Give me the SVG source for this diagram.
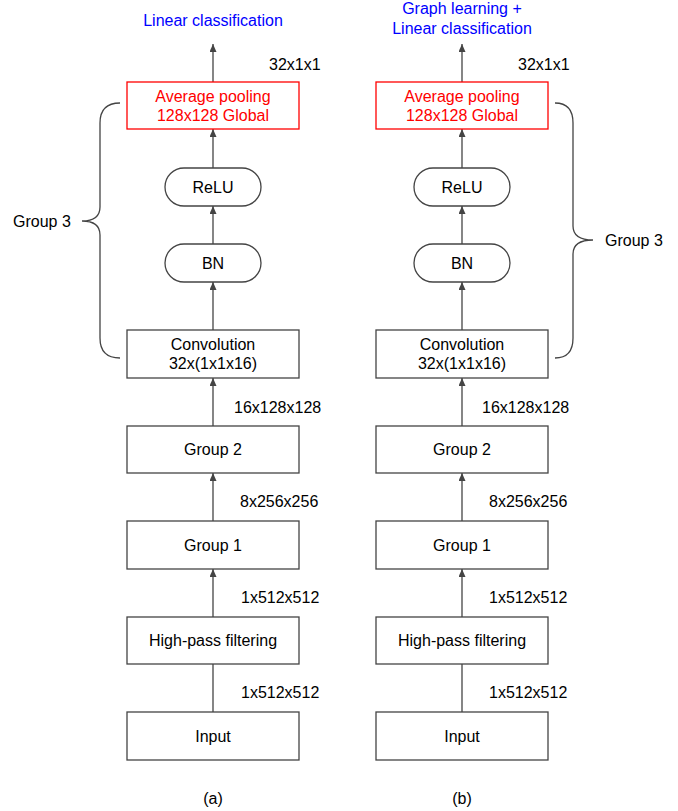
<svg xmlns="http://www.w3.org/2000/svg" width="678" height="811" viewBox="0 0 678 811">
<defs>
<style>
.box{fill:#fff;stroke:#444;stroke-width:1.3}
.red{fill:#fff;stroke:#f00;stroke-width:1.3}
.t{font-family:"Liberation Sans",Arial,sans-serif;font-size:16px;fill:#000}
.c{text-anchor:middle}
.rt{fill:#f00}
.bt{fill:#00f}
.ln{stroke:#444;stroke-width:1.3;fill:none}
</style>
<marker id="ah" markerUnits="userSpaceOnUse" markerWidth="9" markerHeight="8" refX="8" refY="3.5" orient="auto">
<path d="M0,0 L8,3.5 L0,7 z" fill="#444"/>
</marker>
</defs>
<rect width="678" height="811" fill="#fff"/>
<g id="connectors">
<line class="ln" x1="213" y1="712" x2="213" y2="617" marker-end="url(#ah)"/>
<line class="ln" x1="213" y1="617" x2="213" y2="569" marker-end="url(#ah)"/>
<line class="ln" x1="213" y1="521" x2="213" y2="473" marker-end="url(#ah)"/>
<line class="ln" x1="213" y1="426" x2="213" y2="378" marker-end="url(#ah)"/>
<line class="ln" x1="213" y1="330" x2="213" y2="282" marker-end="url(#ah)"/>
<line class="ln" x1="213" y1="244" x2="213" y2="206" marker-end="url(#ah)"/>
<line class="ln" x1="213" y1="168" x2="213" y2="129" marker-end="url(#ah)"/>
<line class="ln" x1="213" y1="82" x2="213" y2="44" marker-end="url(#ah)"/>
<line class="ln" x1="462" y1="712" x2="462" y2="617" marker-end="url(#ah)"/>
<line class="ln" x1="462" y1="617" x2="462" y2="569" marker-end="url(#ah)"/>
<line class="ln" x1="462" y1="521" x2="462" y2="473" marker-end="url(#ah)"/>
<line class="ln" x1="462" y1="426" x2="462" y2="378" marker-end="url(#ah)"/>
<line class="ln" x1="462" y1="330" x2="462" y2="282" marker-end="url(#ah)"/>
<line class="ln" x1="462" y1="244" x2="462" y2="206" marker-end="url(#ah)"/>
<line class="ln" x1="462" y1="168" x2="462" y2="129" marker-end="url(#ah)"/>
<line class="ln" x1="462" y1="82" x2="462" y2="44" marker-end="url(#ah)"/>
</g>
<g id="edge-labels">
<text class="t" x="269" y="69.5">32x1x1</text>
<text class="t" x="234" y="412.5">16x128x128</text>
<text class="t" x="240" y="507">8x256x256</text>
<text class="t" x="241" y="603">1x512x512</text>
<text class="t" x="241" y="698">1x512x512</text>
<text class="t" x="518" y="69.5">32x1x1</text>
<text class="t" x="482" y="412.5">16x128x128</text>
<text class="t" x="489" y="507">8x256x256</text>
<text class="t" x="489" y="603">1x512x512</text>
<text class="t" x="489" y="698">1x512x512</text>
</g>
<g id="a-output"><text class="t c bt" x="213" y="26">Linear classification</text></g>
<g id="a-avgpool"><rect class="red" x="127" y="82" width="172" height="47"/><text class="t c rt" x="213" y="102">Average pooling</text><text class="t c rt" x="213" y="120.5">128x128 Global</text></g>
<g id="a-relu"><rect class="box" x="165" y="168" width="96" height="38" rx="19"/><text class="t c" x="213" y="192.5">ReLU</text></g>
<g id="a-bn"><rect class="box" x="165" y="244" width="96" height="38" rx="19"/><text class="t c" x="213" y="268.5">BN</text></g>
<g id="a-conv"><rect class="box" x="127" y="330" width="172" height="48"/><text class="t c" x="213" y="349.5">Convolution</text><text class="t c" x="213" y="369">32x(1x1x16)</text></g>
<g id="a-group2"><rect class="box" x="127" y="426" width="172" height="47"/><text class="t c" x="213" y="455">Group 2</text></g>
<g id="a-group1"><rect class="box" x="127" y="521" width="172" height="48"/><text class="t c" x="213" y="550.5">Group 1</text></g>
<g id="a-hpf"><rect class="box" x="127" y="617" width="172" height="47"/><text class="t c" x="213" y="646">High-pass filtering</text></g>
<g id="a-input"><rect class="box" x="127" y="712" width="172" height="48"/><text class="t c" x="213" y="741.5">Input</text></g>
<g id="a-group3"><path class="ln" d="M120,103 C107,103 100,110 100,123 L100,207 C100,216 95,221 82,221 C95,221 100,226 100,235 L100,338 C100,351 107,358 120,358"/><text class="t" x="13" y="226.5">Group 3</text></g>
<g id="a-caption"><text class="t c" x="213" y="803.5">(a)</text></g>
<g id="b-output"><text class="t c bt" x="462" y="14">Graph learning +</text><text class="t c bt" x="462" y="34">Linear classification</text></g>
<g id="b-avgpool"><rect class="red" x="376" y="82" width="172" height="47"/><text class="t c rt" x="462" y="102">Average pooling</text><text class="t c rt" x="462" y="120.5">128x128 Global</text></g>
<g id="b-relu"><rect class="box" x="414" y="168" width="96" height="38" rx="19"/><text class="t c" x="462" y="192.5">ReLU</text></g>
<g id="b-bn"><rect class="box" x="414" y="244" width="96" height="38" rx="19"/><text class="t c" x="462" y="268.5">BN</text></g>
<g id="b-conv"><rect class="box" x="376" y="330" width="172" height="48"/><text class="t c" x="462" y="349.5">Convolution</text><text class="t c" x="462" y="369">32x(1x1x16)</text></g>
<g id="b-group2"><rect class="box" x="376" y="426" width="172" height="47"/><text class="t c" x="462" y="455">Group 2</text></g>
<g id="b-group1"><rect class="box" x="376" y="521" width="172" height="48"/><text class="t c" x="462" y="550.5">Group 1</text></g>
<g id="b-hpf"><rect class="box" x="376" y="617" width="172" height="47"/><text class="t c" x="462" y="646">High-pass filtering</text></g>
<g id="b-input"><rect class="box" x="376" y="712" width="172" height="48"/><text class="t c" x="462" y="741.5">Input</text></g>
<g id="b-group3"><path class="ln" d="M555,103 C568,103 573,110 573,123 L573,226 C573,235 580,240 593,240 C580,240 573,245 573,254 L573,338 C573,351 568,358 555,358"/><text class="t" x="605" y="245.5">Group 3</text></g>
<g id="b-caption"><text class="t c" x="462" y="803.5">(b)</text></g>
</svg>
